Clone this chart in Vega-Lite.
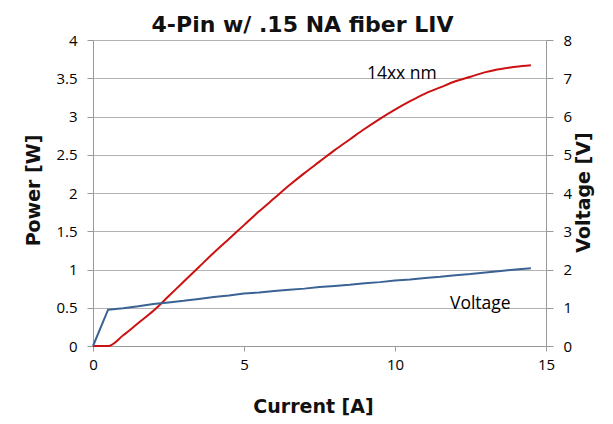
{
  "$schema": "https://vega.github.io/schema/vega-lite/v6.json",
  "width": 453,
  "height": 306,
  "autosize": "none",
  "padding": {"left": 93, "top": 40, "right": 67, "bottom": 78},
  "background": "white",
  "title": {
    "text": "4-Pin w/ .15 NA fiber LIV",
    "font": "DejaVu Sans",
    "fontSize": 22,
    "fontWeight": "bold",
    "color": "#111111",
    "frame": "group",
    "anchor": "middle",
    "baseline": "bottom",
    "offset": 6,
    "dx": -17,
    "dy": 32
  },
  "config": {
    "view": {"stroke": null},
    "axis": {
      "labelFont": "Open Sans",
      "labelFontSize": 15,
      "labelColor": "#000000",
      "labelFlush": false,
      "titleFont": "DejaVu Sans",
      "titleFontSize": 19,
      "titleFontWeight": "bold",
      "titleColor": "#111111",
      "domainColor": "#999999",
      "tickColor": "#999999",
      "gridColor": "#b3b3b3"
    }
  },
  "datasets": {
    "liv": [
      {"current": 0, "power": 0, "voltage": 0},
      {"current": 0.5, "power": 0, "voltage": 0.95},
      {"current": 1, "power": 0.14, "voltage": 0.99},
      {"current": 1.5, "power": 0.3, "voltage": 1.04},
      {"current": 2, "power": 0.46, "voltage": 1.1},
      {"current": 2.5, "power": 0.65, "voltage": 1.14},
      {"current": 3, "power": 0.84, "voltage": 1.18},
      {"current": 3.5, "power": 1.03, "voltage": 1.23},
      {"current": 4, "power": 1.22, "voltage": 1.28},
      {"current": 4.5, "power": 1.4, "voltage": 1.32},
      {"current": 5, "power": 1.58, "voltage": 1.37},
      {"current": 5.5, "power": 1.76, "voltage": 1.4},
      {"current": 6, "power": 1.93, "voltage": 1.44},
      {"current": 6.5, "power": 2.1, "voltage": 1.47},
      {"current": 7, "power": 2.26, "voltage": 1.5},
      {"current": 7.5, "power": 2.41, "voltage": 1.54},
      {"current": 8, "power": 2.56, "voltage": 1.57},
      {"current": 8.5, "power": 2.7, "voltage": 1.6},
      {"current": 9, "power": 2.84, "voltage": 1.64},
      {"current": 9.5, "power": 2.97, "voltage": 1.67},
      {"current": 10, "power": 3.09, "voltage": 1.71},
      {"current": 10.5, "power": 3.2, "voltage": 1.74},
      {"current": 11, "power": 3.3, "voltage": 1.78},
      {"current": 11.5, "power": 3.38, "voltage": 1.81},
      {"current": 12, "power": 3.46, "voltage": 1.85},
      {"current": 12.5, "power": 3.52, "voltage": 1.88},
      {"current": 13, "power": 3.58, "voltage": 1.92},
      {"current": 13.5, "power": 3.62, "voltage": 1.96},
      {"current": 14, "power": 3.65, "voltage": 2.0},
      {"current": 14.5, "power": 3.67, "voltage": 2.03}
    ],
    "labels": [
      {"label": "14xx nm", "current": 9.07, "power": 3.56},
      {"label": "Voltage", "current": 11.82, "power": 0.55}
    ]
  },
  "layer": [
    {
      "data": {"name": "liv"},
      "mark": {"type": "line", "color": "#cc1111", "strokeWidth": 2, "interpolate": "monotone"},
      "encoding": {
        "x": {
          "field": "current",
          "type": "quantitative",
          "scale": {"domain": [0, 15], "nice": false},
          "axis": {
            "title": "Current [A]",
            "values": [0, 5, 10, 15],
            "grid": false,
            "tickSize": 5,
            "labelPadding": 6,
            "titleX": 220,
            "titleY": 66,
            "titleAlign": "center",
            "titleBaseline": "alphabetic"
          }
        },
        "y": {
          "field": "power",
          "type": "quantitative",
          "scale": {"domain": [0, 4], "nice": false},
          "axis": {
            "title": "Power [W]",
            "values": [0, 0.5, 1, 1.5, 2, 2.5, 3, 3.5, 4],
            "format": "~g",
            "grid": true,
            "tickSize": 6,
            "labelPadding": 10,
            "titleX": -60,
            "titleY": 150,
            "titleAngle": 270,
            "titleAlign": "center",
            "titleBaseline": "middle"
          }
        }
      }
    },
    {
      "data": {"name": "liv"},
      "mark": {"type": "line", "color": "#3a6394", "strokeWidth": 2},
      "encoding": {
        "x": {"field": "current", "type": "quantitative"},
        "y": {
          "field": "voltage",
          "type": "quantitative",
          "scale": {"domain": [0, 8], "nice": false},
          "axis": {
            "orient": "right",
            "title": "Voltage [V]",
            "values": [0, 1, 2, 3, 4, 5, 6, 7, 8],
            "grid": false,
            "tickSize": 7,
            "labelPadding": 10,
            "titleX": 37,
            "titleY": 152,
            "titleAngle": 270,
            "titleAlign": "center",
            "titleBaseline": "middle"
          }
        }
      }
    },
    {
      "data": {"name": "labels"},
      "mark": {"type": "text", "align": "left", "baseline": "middle", "font": "Open Sans", "fontSize": 17.5, "color": "#000000"},
      "encoding": {
        "x": {"field": "current", "type": "quantitative"},
        "y": {"field": "power", "type": "quantitative", "scale": {"domain": [0, 4], "nice": false}, "axis": null},
        "text": {"field": "label"}
      }
    }
  ],
  "resolve": {"scale": {"y": "independent"}}
}
